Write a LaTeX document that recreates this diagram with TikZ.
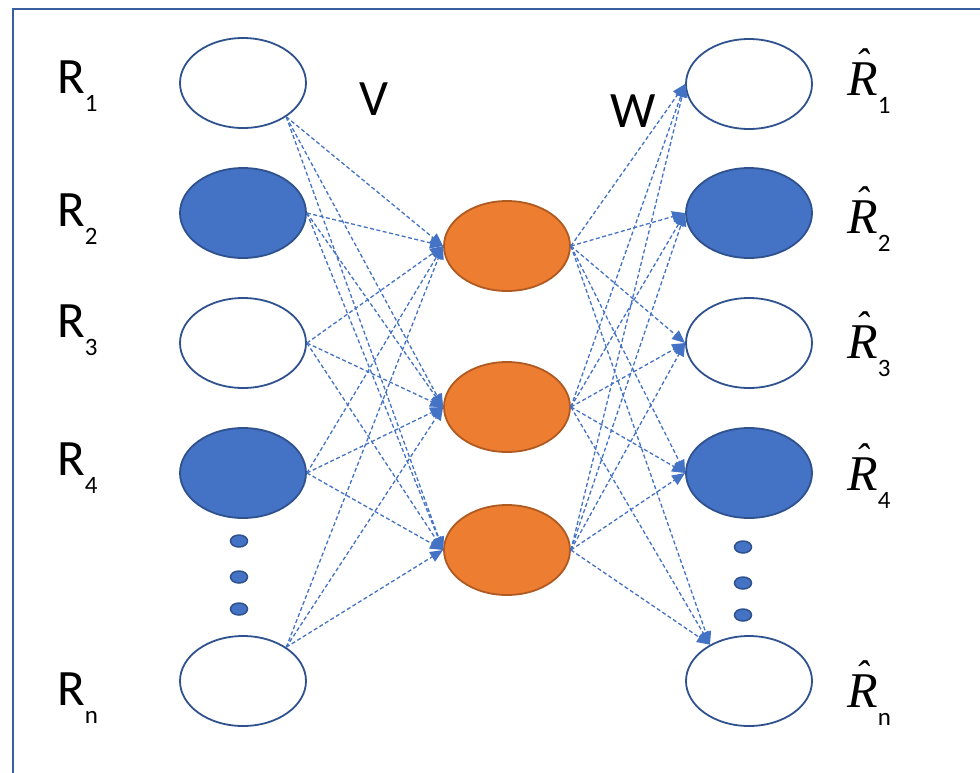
\documentclass[tikz,border=0pt]{standalone}
\usepackage{fontspec}
\setmainfont{Carlito}
\newfontfamily\serifit{Liberation Serif}
\usetikzlibrary{arrows.meta,shapes.geometric}
\definecolor{nodeblue}{HTML}{4472C4}
\definecolor{edgeblue}{HTML}{2F528F}
\definecolor{nodeorange}{HTML}{ED7D31}
\definecolor{edgeorange}{HTML}{AE5A21}
\definecolor{frameblue}{HTML}{3A5FA0}
\tikzset{
  unit/.style={ellipse, minimum width=126pt, minimum height=90pt, inner sep=0pt, line width=1.8pt, draw=edgeblue},
  whiteunit/.style={unit, fill=white},
  blueunit/.style={unit, fill=nodeblue},
  hidunit/.style={ellipse, minimum width=126pt, minimum height=90pt, inner sep=0pt, line width=1.8pt, draw=edgeorange, fill=nodeorange},
  dotunit/.style={ellipse, minimum width=17pt, minimum height=12pt, inner sep=0pt, line width=1.5pt, draw=edgeblue, fill=nodeblue},
  conn/.style={draw=nodeblue, line width=1.3pt, dash pattern=on 4pt off 2.5pt, -{Triangle[length=13pt,width=11pt]}},
  lbl/.style={inner sep=0pt, anchor=base west, font=\fontsize{51}{51}\selectfont},
}
\newcommand{\mysub}[1]{\raisebox{-18pt}{\fontsize{25}{25}\selectfont #1}}
\newcommand{\Rhat}{{\serifit\itshape\fontsize{50}{50}\selectfont\makebox[0pt][l]{\kern 8pt\raisebox{19pt}{\fontsize{40}{40}\selectfont\char"02C6}}R}}
\begin{document}
\begin{tikzpicture}[x=1pt,y=-1pt]
\useasboundingbox (0,0) rectangle (980,772);
\clip (0,0) rectangle (980,772);
\fill[white] (0,0) rectangle (980,772);
\draw[frameblue, line width=2.4pt] (1000,9) -- (13,9) -- (13,800);

% input units
\node[whiteunit] (L1) at (243,83) {};
\node[blueunit]  (L2) at (243,213) {};
\node[whiteunit] (L3) at (243,343) {};
\node[blueunit]  (L4) at (243,473) {};
\node[whiteunit] (Ln) at (243,681) {};
\node[dotunit] (ld1) at (239,541) {};
\node[dotunit] (ld2) at (239,577) {};
\node[dotunit] (ld3) at (239,609) {};

% hidden units
\node[hidunit] (H1) at (507,246) {};
\node[hidunit] (H2) at (507,407) {};
\node[hidunit] (H3) at (507,550) {};

% output units
\node[whiteunit] (O1) at (749,84) {};
\node[blueunit]  (O2) at (749,213) {};
\node[whiteunit] (O3) at (749,343) {};
\node[blueunit]  (O4) at (749,473) {};
\node[whiteunit] (On) at (749,681) {};
\node[dotunit] (rd1) at (743,547) {};
\node[dotunit] (rd2) at (743,583) {};
\node[dotunit] (rd3) at (743,615) {};

% connections input -> hidden
\coordinate (s1) at (L1.-38);
\coordinate (s2) at (L2.east);
\coordinate (s3) at (L3.east);
\coordinate (s4) at (L4.east);
\coordinate (sn) at (Ln.38);
\foreach \s in {s1,s2,s3,s4,sn}{
  \foreach \h in {H1,H2,H3}{
    \draw[conn] (\s) -- (\h.west);
  }
}
% connections hidden -> output
\coordinate (t1) at (O1.west);
\coordinate (t2) at (O2.west);
\coordinate (t3) at (O3.west);
\coordinate (t4) at (O4.west);
\coordinate (tn) at (On.137);
\foreach \h in {H1,H2,H3}{
  \foreach \t in {t1,t2,t3,t4,tn}{
    \draw[conn] (\h.east) -- (\t);
  }
}

% labels
\node[lbl] (lR1) at (57,93) {R\mysub{1}};
\node[lbl] (lR2) at (57,226) {R\mysub{2}};
\node[lbl] (lR3) at (57,337) {R\mysub{3}};
\node[lbl] (lR4) at (57,475) {R\mysub{4}};
\node[lbl] (lRn) at (57,705) {R\mysub{n}};

\node[lbl] (lV) at (359,115) {V};
\node[lbl] (lW) at (610,127) {W};

\node[lbl] (lO1) at (847,95) {\Rhat\mysub{1}};
\node[lbl] (lO2) at (847,233) {\Rhat\mysub{2}};
\node[lbl] (lO3) at (847,358) {\Rhat\mysub{3}};
\node[lbl] (lO4) at (847,490) {\Rhat\mysub{4}};
\node[lbl] (lOn) at (847,707) {\Rhat\mysub{n}};
\end{tikzpicture}
\end{document}
